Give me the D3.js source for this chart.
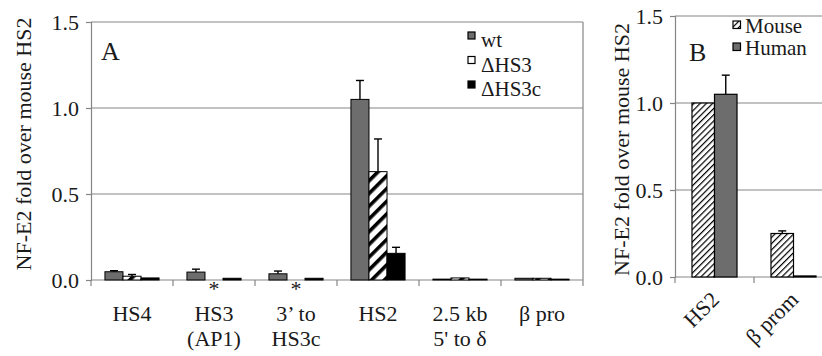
<!DOCTYPE html>
<html><head><meta charset="utf-8">
<script src="https://cdn.jsdelivr.net/npm/d3@7"></script>
<style>
html,body{margin:0;padding:0;background:#fff;}
svg{display:block;}
svg text{font-family:"Liberation Serif","Times New Roman",Times,"DejaVu Serif",serif !important;}
</style></head>
<body><svg id="c" width="822" height="356"></svg>
<script>
// ---------- data ----------
const catsA = [["HS4"], ["HS3", "(AP1)"], ["3\u2019 to", "HS3c"], ["HS2"], ["2.5 kb", "5' to \u03b4"], ["\u03b2 pro"]];
const seriesA = ["wt", "\u0394HS3", "\u0394HS3c"];
const wtVals   = [0.048, 0.046, 0.036, 1.05, 0.005, 0.010];
const wtErr    = [0.006, 0.017, 0.016, 0.11, 0, 0];
const dhs3Vals = [0.022, 0.000, 0.000, 0.63, 0.012, 0.010];
const dhs3Err  = [0.010, 0, 0, 0.19, 0, 0];
const dhs3cVals = [0.012, 0.010, 0.010, 0.155, 0.005, 0.005];
const dhs3cErr  = [0, 0, 0, 0.035, 0, 0];
const dhs3Star = [false, true, true, false, false, false];

const catsB = ["HS2", "\u03b2 prom"];
const seriesB = ["Mouse", "Human"];
const mouseVals = [1.0, 0.25];
const mouseErr  = [0, 0.015];
const humanVals = [1.05, 0.006];
const humanErr  = [0.11, 0];

const yTicks = [0, 0.5, 1.0, 1.5];
const yTitle = "NF-E2 fold over mouse HS2";

// ---------- setup ----------
const svg = d3.select("#c");
const GRID = "#858585";
const FONT = "Liberation Serif, Times New Roman, Times, serif";
const FS = 22;
const TXT = "#1a1a1a";
const defs = svg.append("defs");
const p1 = defs.append("pattern").attr("id", "hatchThick").attr("patternUnits", "userSpaceOnUse")
  .attr("width", 9).attr("height", 9).attr("patternTransform", "rotate(45)");
p1.append("rect").attr("width", 9).attr("height", 9).attr("fill", "#fff");
p1.append("rect").attr("width", 3.6).attr("height", 9).attr("fill", "#000");
const p2 = defs.append("pattern").attr("id", "hatchThin").attr("patternUnits", "userSpaceOnUse")
  .attr("width", 4.4).attr("height", 4.4).attr("patternTransform", "rotate(45)");
p2.append("rect").attr("width", 4.4).attr("height", 4.4).attr("fill", "#fff");
p2.append("rect").attr("width", 1.2).attr("height", 4.4).attr("fill", "#000");

function txt(sel) { return sel.attr("font-family", FONT).attr("fill", TXT); }

function yAxisPanel(g, y, x0, x1) {
  g.selectAll(".grid").data(yTicks.filter(d => d > 0)).join("line")
    .attr("x1", x0).attr("x2", x1).attr("y1", d => y(d)).attr("y2", d => y(d))
    .attr("stroke", GRID).attr("stroke-width", 1.2);
  const ax = g.append("g").attr("transform", `translate(${x0},0)`)
    .call(d3.axisLeft(y).tickValues(yTicks).tickFormat(d3.format(".1f")).tickSize(5).tickPadding(7));
  ax.attr("font-family", FONT);
  ax.select(".domain").attr("stroke", GRID).attr("stroke-width", 1.2);
  ax.selectAll(".tick line").attr("stroke", GRID).attr("stroke-width", 1.2);
  txt(ax.selectAll(".tick text")).attr("font-size", FS);
}

function errBars(g, data, xf, y, w) {
  const eb = g.selectAll(null).data(data.filter(d => d.e > 0)).join("g");
  eb.append("line").attr("x1", d => xf(d)).attr("x2", d => xf(d))
    .attr("y1", d => y(d.v)).attr("y2", d => y(d.v + d.e)).attr("stroke", "#000").attr("stroke-width", 1.4);
  eb.append("line").attr("x1", d => xf(d) - w / 2).attr("x2", d => xf(d) + w / 2)
    .attr("y1", d => y(d.v + d.e)).attr("y2", d => y(d.v + d.e)).attr("stroke", "#000").attr("stroke-width", 1.4);
}

// ---------- Panel A ----------
{
  const g = svg.append("g");
  const x0 = 91, x1 = 583;
  const y = d3.scaleLinear().domain([0, 1.5]).range([280, 22]);
  const x = d3.scaleBand().domain(catsA.map((d, i) => i)).range([x0, x1]);
  const gw = x.bandwidth() * 0.66;
  const xs = d3.scaleBand().domain(seriesA).range([0, gw]);
  yAxisPanel(g, y, x0, x1);
  g.append("line").attr("x1", x1).attr("x2", x1).attr("y1", y(1.5)).attr("y2", y(0)).attr("stroke", GRID).attr("stroke-width", 1.2);
  const xa = g.append("g").attr("transform", `translate(0,${y(0)})`);
  xa.append("line").attr("x1", x0).attr("x2", x1).attr("stroke", GRID).attr("stroke-width", 1.2);
  xa.selectAll(".xt").data(d3.range(catsA.length + 1)).join("line")
    .attr("x1", i => x0 + i * x.bandwidth()).attr("x2", i => x0 + i * x.bandwidth())
    .attr("y1", 0).attr("y2", 6).attr("stroke", GRID).attr("stroke-width", 1.2);
  const lab = txt(g.selectAll(".clab").data(catsA).join("text"))
    .attr("text-anchor", "middle").attr("font-size", FS);
  lab.each(function (lines, i) {
    d3.select(this).selectAll("tspan").data(lines).join("tspan")
      .attr("x", x(i) + x.bandwidth() / 2).attr("y", (d, j) => 321 + j * 25).text(d => d);
  });
  const fills = ["#6d6d6d", "url(#hatchThick)", "#000"];
  const vals = [wtVals, dhs3Vals, dhs3cVals];
  const errs = [wtErr, dhs3Err, dhs3cErr];
  seriesA.forEach((s, k) => {
    const data = catsA.map((c, i) => ({ i, v: vals[k][i], e: errs[k][i] }));
    const off = x.bandwidth() / 2 - gw / 2 + xs(s);
    g.selectAll(null).data(data).join("rect")
      .attr("x", d => x(d.i) + off).attr("width", xs.bandwidth())
      .attr("y", d => y(d.v)).attr("height", d => y(0) - y(d.v))
      .attr("fill", fills[k]).attr("stroke", "#000").attr("stroke-width", 1);
    errBars(g, data, d => x(d.i) + off + xs.bandwidth() / 2, y, 8);
  });
  const offS = x.bandwidth() / 2 - gw / 2 + xs(seriesA[1]) + xs.bandwidth() / 2;
  txt(g.selectAll(".star").data(dhs3Star.map((s, i) => ({ s, i })).filter(d => d.s)).join("text"))
    .attr("x", d => x(d.i) + offS).attr("y", y(0) + 16).attr("text-anchor", "middle")
    .attr("font-size", FS).text("*");
  txt(g.append("text")).attr("transform", `translate(31,${(15 + 273) / 2}) rotate(-90)`)
    .attr("text-anchor", "middle").attr("font-size", FS).text(yTitle);
  txt(g.append("text")).attr("x", 101).attr("y", 60).attr("font-size", 26).text("A");
  seriesA.forEach((s, k) => {
    const by = 47 + k * 24.5;
    g.append("rect").attr("x", 468).attr("y", by - 15).attr("width", 7).attr("height", 7)
      .attr("fill", k === 1 ? "#fff" : fills[k]).attr("stroke", "#000").attr("stroke-width", 1.2);
    txt(g.append("text")).attr("x", 481).attr("y", by).attr("font-size", FS - 1).text(s);
  });
}

// ---------- Panel B ----------
{
  const g = svg.append("g");
  const x0 = 675, x1 = 833;
  const y = d3.scaleLinear().domain([0, 1.5]).range([277, 16]);
  const x = d3.scaleBand().domain(catsB).range([x0, x1]);
  const gw = x.bandwidth() * 0.57;
  const xs = d3.scaleBand().domain(seriesB).range([0, gw]);
  yAxisPanel(g, y, x0, 822);
  const xa = g.append("g").attr("transform", `translate(0,${y(0)})`);
  xa.append("line").attr("x1", x0).attr("x2", 822).attr("stroke", GRID).attr("stroke-width", 1.2);
  xa.selectAll(".xt").data(d3.range(catsB.length)).join("line")
    .attr("x1", i => x0 + i * x.bandwidth()).attr("x2", i => x0 + i * x.bandwidth())
    .attr("y1", 0).attr("y2", 6).attr("stroke", GRID).attr("stroke-width", 1.2);
  txt(g.selectAll(".clab").data(catsB).join("text"))
    .attr("transform", d => `translate(${x(d) + x.bandwidth() / 2 + 6},${y(0) + 24}) rotate(-45)`)
    .attr("text-anchor", "end").attr("font-size", FS).text(d => d);
  const fills = ["url(#hatchThin)", "#6d6d6d"];
  const vals = [mouseVals, humanVals];
  const errs = [mouseErr, humanErr];
  seriesB.forEach((s, k) => {
    const data = catsB.map((c, i) => ({ c, v: vals[k][i], e: errs[k][i] }));
    const off = x.bandwidth() / 2 - gw / 2 + xs(s);
    g.selectAll(null).data(data).join("rect")
      .attr("x", d => x(d.c) + off).attr("width", xs.bandwidth())
      .attr("y", d => y(d.v)).attr("height", d => y(0) - y(d.v))
      .attr("fill", fills[k]).attr("stroke", "#000").attr("stroke-width", 1.2);
    errBars(g, data, d => x(d.c) + off + xs.bandwidth() / 2, y, 8);
  });
  txt(g.append("text")).attr("transform", `translate(629,${(17 + 282) / 2}) rotate(-90)`)
    .attr("text-anchor", "middle").attr("font-size", FS).text(yTitle);
  txt(g.append("text")).attr("x", 689).attr("y", 61).attr("font-size", 26).text("B");
  seriesB.forEach((s, k) => {
    const by = 33 + k * 22;
    g.append("rect").attr("x", 733).attr("y", by - 12).attr("width", 7.5).attr("height", 7.5)
      .attr("fill", fills[k]).attr("stroke", "#000").attr("stroke-width", 1.2);
    txt(g.append("text")).attr("x", 745).attr("y", by).attr("font-size", FS - 1).text(s);
  });
}
</script></body></html>
